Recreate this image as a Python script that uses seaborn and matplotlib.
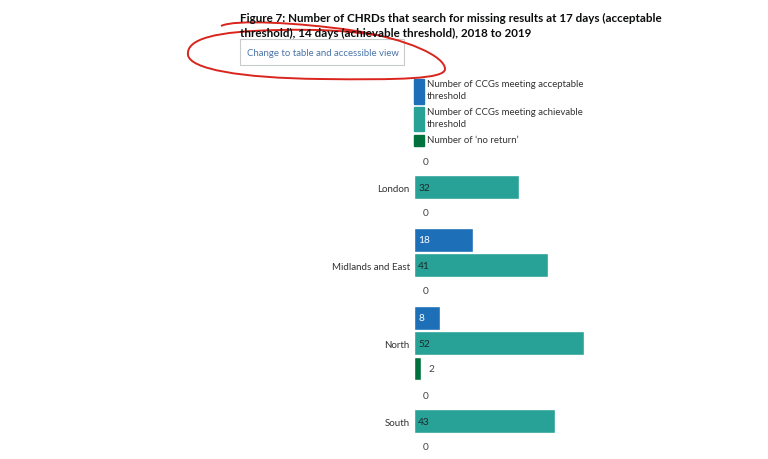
import pandas as pd
import matplotlib.pyplot as plt
import seaborn as sns
from matplotlib.patches import Rectangle, PathPatch
from matplotlib.path import Path

# data
regions = ["London", "Midlands and East", "North", "South"]
series = ["Number of CCGs meeting acceptable\nthreshold",
          "Number of CCGs meeting achievable\nthreshold",
          "Number of \u2018no return\u2019"]
acceptable = [0, 18, 8, 0]
achievable = [32, 41, 52, 43]
no_return = [0, 0, 2, 0]
colors = ["#1d70b8", "#28a197", "#00703c"]

title1 = "Figure 7: Number of CHRDs that search for missing results at 17 days (acceptable"
title2 = "threshold), 14 days (achievable threshold), 2018 to 2019"
button_text = "Change to table and accessible view"

df = pd.DataFrame({
    "region": regions * 3,
    "series": [s for s in series for _ in regions],
    "value": acceptable + achievable + no_return,
})

sns.set_theme(style="white")
plt.rcParams["font.family"] = ["Lato", "DejaVu Sans"]

W, H = 768, 460
fig = plt.figure(figsize=(W / 100, H / 100), dpi=100)
fig.patch.set_facecolor("white")

def fx(x):
    return x / W

def fy(y):
    return 1 - y / H

# bar area
ax = fig.add_axes([fx(414), 0, fx(200), (H - 148) / H])
sns.barplot(data=df, x="value", y="region", hue="series", hue_order=series,
            palette=colors, orient="h", width=0.98, gap=0.06, saturation=1,
            legend=False, ax=ax)
ax.set_xlim(0, 200 / 3.27)
ax.set_ylim(3.487, -0.513)
sns.despine(ax=ax, left=True, bottom=True)
ax.set_xticks([])
ax.set_xlabel("")
ax.set_ylabel("")
ax.tick_params(axis="y", length=0, pad=3, labelsize=7.0, labelcolor="#333333")
ax.set_facecolor("white")

# value labels
label_cols = ["white", "#1b2b2a", "#1b2b2a"]
for cont, vals, lc in zip(ax.containers, [acceptable, achievable, no_return], label_cols):
    for bar, v in zip(cont, vals):
        yc = bar.get_y() + bar.get_height() / 2
        if v >= 5:
            ax.annotate(str(v), (0, yc), xytext=(3, 0), textcoords="offset points",
                        va="center", ha="left", fontsize=7.3, color=lc)
        else:
            ax.annotate(str(v), (bar.get_width(), yc), xytext=(6, 0),
                        textcoords="offset points", va="center", ha="left",
                        fontsize=7.3, color="#444444")

# legend (tall swatches for wrapped labels)
leg_boxes = [(80, 105), (108, 132), (136, 147)]
for (y0, y1), s, c in zip(leg_boxes, series, colors):
    fig.add_artist(Rectangle((fx(414), fy(y1)), fx(10), (y1 - y0) / H,
                             transform=fig.transFigure, color=c))
    fig.text(fx(427), fy(y0), s, ha="left", va="top", fontsize=6.9,
             color="#333333", linespacing=1.45)

# title
fig.text(fx(240), fy(18), title1, fontsize=8.4, fontweight="bold", color="#0b0c0c", va="center")
fig.text(fx(240), fy(33), title2, fontsize=8.4, fontweight="bold", color="#0b0c0c", va="center")

# button
fig.add_artist(Rectangle((fx(240), fy(66)), fx(164), 26 / H, transform=fig.transFigure,
                         facecolor="white", edgecolor="#c8cacc", lw=0.8))
fig.text(fx(247), fy(53), button_text, fontsize=6.9, color="#4a74a8", va="center")

# hand-drawn red loop
pts = [(221, 27),
       (235, 20), (300, 24), (350, 31),
       (410, 40), (445, 58), (445, 70),
       (445, 80), (400, 81), (320, 80),
       (240, 79), (190, 70), (188, 56),
       (186, 40), (215, 32), (280, 31),
       (320, 30), (350, 32), (375, 36)]
codes = [Path.MOVETO] + [Path.CURVE4] * (len(pts) - 1)
loop = Path([(fx(x), fy(y)) for x, y in pts], codes)
fig.add_artist(PathPatch(loop, transform=fig.transFigure, facecolor="none",
                         edgecolor="#d9251d", lw=1.4))

fig.savefig("out.png", dpi=100)
